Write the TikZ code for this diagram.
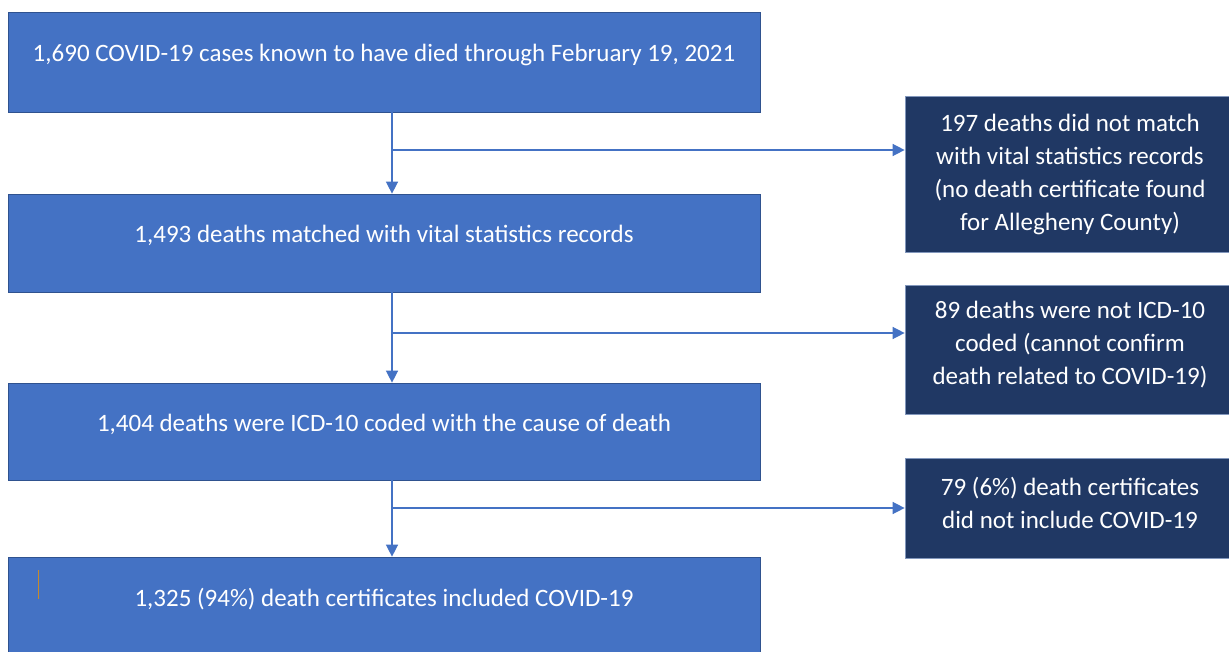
\documentclass[tikz,border=0pt]{standalone}
\usepackage{fontspec}
\setmainfont{Carlito}
\usetikzlibrary{arrows.meta}
\definecolor{boxblue}{HTML}{4472C4}
\definecolor{boxnavy}{HTML}{203864}
\definecolor{edgeblue}{HTML}{2F528F}
\definecolor{arrowblue}{HTML}{4472C4}
\definecolor{cursor}{HTML}{C58A2C}
\tikzset{
  mainbox/.style={draw=edgeblue, line width=0.7pt, fill=boxblue, text=white,
    minimum width=752pt, inner sep=0pt, font=\fontsize{25}{33}\selectfont,
    text height=18pt, text depth=18pt},
  sidebox/.style={draw=edgeblue!60, line width=0.7pt, fill=boxnavy, text=white,
    minimum width=330pt, inner sep=0pt, align=center,
    font=\fontsize{25}{33}\selectfont},
  flow/.style={draw=arrowblue, line width=1.4pt,
    -{Triangle[length=12pt,width=12pt]}},
}
\begin{document}
\begin{tikzpicture}[x=1pt,y=-1pt]
\useasboundingbox (0,0) rectangle (1229,652);
\fill[white] (0,0) rectangle (1229,652);
% main boxes
\node[mainbox, minimum height=100pt] (b1) at (384,62)
  {1,690 COVID-19 cases known to have died through February 19, 2021};
\node[mainbox, minimum height=98pt] (b2) at (384,243)
  {1,493 deaths matched with vital statistics records};
\node[mainbox, minimum height=97pt] (b3) at (384,431.5)
  {1,404 deaths were ICD-10 coded with the cause of death};
\node[mainbox, minimum height=98pt] (b4) at (384,606)
  {1,325 (94\%) death certificates included COVID-19};
% side boxes
\node[sidebox, minimum height=156pt] (r1) at (1070,174)
  {197 deaths did not match\\with vital statistics records\\(no death certificate found\\for Allegheny County)};
\node[sidebox, minimum height=129pt, text depth=13pt] (r2) at (1070,349.5)
  {89 deaths were not ICD-10\\coded (cannot confirm\\death related to COVID-19)};
\node[sidebox, minimum height=100pt, text depth=10pt] (r3) at (1070,508)
  {79 (6\%) death certificates\\did not include COVID-19};
% text cursor artifact
\draw[cursor, line width=1pt] (38,570) -- (38,599);
% branch points
\coordinate (c1) at (392,150);
\coordinate (c2) at (392,333);
\coordinate (c3) at (392,508);
% connectors
\draw[flow] (b1.south -| c1) -- (b2.north -| c1);
\draw[flow] (b2.south -| c2) -- (b3.north -| c2);
\draw[flow] (b3.south -| c3) -- (b4.north -| c3);
\draw[flow] (c1) -- (r1.west |- c1);
\draw[flow] (c2) -- (r2.west |- c2);
\draw[flow] (c3) -- (r3.west |- c3);
\end{tikzpicture}
\end{document}
